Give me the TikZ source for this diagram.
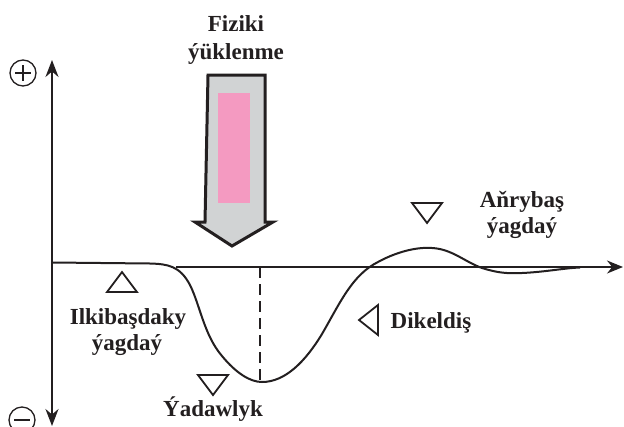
\documentclass[tikz,border=0pt]{standalone}
\usepackage{fontspec}
\setmainfont{Liberation Serif}
\usetikzlibrary{arrows.meta,calc}
\definecolor{loadgray}{HTML}{D1D3D4}
\definecolor{loadpink}{HTML}{F49AC1}
\definecolor{ink}{HTML}{231F20}
\begin{document}
\begin{tikzpicture}[x=1pt,y=-1pt,
  lbl/.style={font=\fontsize{23}{27}\selectfont\bfseries, anchor=base, inner sep=0pt, text=ink},
  axisline/.style={line width=2pt, draw=ink},
  tri/.style={line width=1.8pt, draw=ink, line join=miter},
  sgn/.style={circle, draw=ink, line width=1.3pt, minimum size=26pt, inner sep=0pt}]
\useasboundingbox (0,0) rectangle (624,426);
% axes
\coordinate (vtop) at (52,60);
\coordinate (vbot) at (52,426);
\coordinate (hstart) at (176,267);
\coordinate (hend) at (623,267);
\draw[axisline, {Stealth[length=17pt,width=13pt]}-{Stealth[length=17pt,width=13pt]}] (vbot) -- (vtop);
\draw[axisline, -{Stealth[length=16pt,width=13pt]}] (hstart) -- (hend);
% sign circles
\node[sgn] (plus) at (23,73) {};
\draw[line width=1.3pt, draw=ink] ($(plus)+(-8,0)$) -- ($(plus)+(8,0)$) ($(plus)+(0,-8)$) -- ($(plus)+(0,8)$);
\node[sgn] (minus) at (22,420) {};
\draw[line width=1.3pt, draw=ink] ($(minus)+(-8,0)$) -- ($(minus)+(8,0)$);
% dashed line
\coordinate (dtop) at (260,267);
\coordinate (dbot) at (260,381);
\draw[line width=2pt, draw=ink, dash pattern=on 11pt off 6pt] (dtop) -- (dbot);
% curve
\draw[line width=2pt, draw=ink, line join=round]
  (52,262.5) -- (150,263.5)
  .. controls (168,264) and (180,266) .. (190,285)
  .. controls (200,305) and (204,335) .. (222,356)
  .. controls (236,373) and (250,382) .. (262,382)
  .. controls (285,382) and (305,362) .. (322,334)
  .. controls (340,303) and (352,275) .. (378,262)
  .. controls (400,250) and (420,247) .. (432,248)
  .. controls (452,249) and (465,262) .. (482,268)
  .. controls (495,272) and (505,274) .. (522,273)
  .. controls (545,272) and (565,268) .. (580,267.5);
% big load arrow
\draw[line width=3pt, draw=ink, fill=loadgray, line join=miter]
  (208,75) -- (265,75) -- (265,222) -- (273,222) -- (232,246) -- (195,222) -- (205,222) -- cycle;
\fill[loadpink] (218,93) rectangle (250,203);
% triangles
\draw[tri] (107,292) -- (137,292) -- (122,272) -- cycle;
\draw[tri] (198,375) -- (228,375) -- (213,395) -- cycle;
\draw[tri] (412,203) -- (442,203) -- (427,223) -- cycle;
\draw[tri] (378,305) -- (378,335) -- (359,320) -- cycle;
% labels
\node[lbl] (fiz1) at (236,31) {Fiziki};
\node[lbl] (fiz2) at (236,59) {ýüklenme};
\node[lbl] (ilk1) at (128,324) {Ilkibaşdaky};
\node[lbl] (ilk2) at (127,350) {ýagdaý};
\node[lbl] (yad) at (213,416) {Ýadawlyk};
\node[lbl] (anr1) at (522,207) {Aňrybaş};
\node[lbl] (anr2) at (522,233) {ýagdaý};
\node[lbl] (dik) at (431,328) {Dikeldiş};
\end{tikzpicture}
\end{document}
